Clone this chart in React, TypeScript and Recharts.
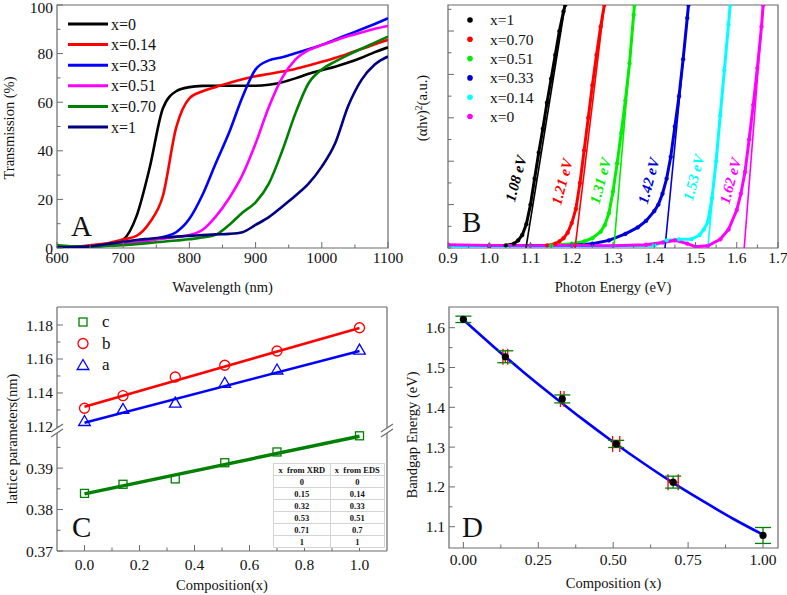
import React from 'react';
import { LineChart, ComposedChart, Line, Scatter, XAxis, YAxis, ReferenceArea, ReferenceLine, ErrorBar } from 'recharts';

const FONT = "'Liberation Serif', 'Times New Roman', serif";
const AXIS = '#6a6a6a';

// ---------- A: transmission spectra ----------
const wavelength = [600, 620, 640, 660, 680, 700, 720, 740, 760, 780, 800, 820, 840, 860, 880, 900, 920, 940, 960, 980, 1000, 1020, 1040, 1060, 1080, 1100];
const transX0 = [0.5, 0.4, 0.6, 1.0, 1.7, 3.5, 13, 33, 57.5, 64.5, 66.2, 66.7, 66.8, 66.8, 66.8, 66.8, 67.2, 68.2, 69.8, 71.7, 73.2, 74.6, 76.3, 78.3, 80.6, 82.6];
const transX014 = [0.4, 0.4, 0.8, 1.4, 2.2, 3.5, 5.0, 10.5, 21.5, 49.5, 61.6, 64.5, 66.3, 67.9, 69.4, 70.7, 71.6, 72.6, 73.7, 75.1, 76.6, 78.2, 80.0, 81.9, 83.8, 85.7];
const transX033 = [0.5, 0.3, 0.4, 0.7, 1.2, 1.8, 2.5, 3.2, 4.5, 6.5, 12, 22, 35, 47.5, 62, 73.5, 77.2, 78.5, 80.1, 81.8, 83.6, 85.7, 87.9, 90.0, 92.2, 94.5];
const transX051 = [0.4, 0.3, 0.5, 0.8, 1.2, 1.8, 2.5, 3.2, 3.8, 4.5, 5.3, 7.5, 13, 20.5, 30, 43, 58, 70, 77.5, 81.4, 83.5, 85.4, 87.2, 88.7, 90.2, 91.4];
const transX070 = [1.2, 0.7, 0.5, 0.6, 0.9, 1.2, 1.6, 2.1, 2.6, 3.1, 3.6, 4.3, 5.5, 9.5, 14.5, 18.8, 26.5, 39.8, 55.3, 67.8, 73.5, 76.7, 79.5, 82.0, 84.5, 87.0];
const transX1 = [0.3, 0.3, 0.5, 1.0, 1.8, 2.6, 3.3, 3.8, 4.3, 4.7, 5.0, 5.3, 5.6, 5.8, 6.5, 9.5, 12.7, 17, 21.5, 26.5, 33.5, 43, 58.5, 69.2, 75.5, 78.8];

const aSeries = [
  { key: 't0', name: 'x=0', color: '#000000', values: transX0 },
  { key: 't014', name: 'x=0.14', color: '#ff0000', values: transX014 },
  { key: 't033', name: 'x=0.33', color: '#0000ff', values: transX033 },
  { key: 't051', name: 'x=0.51', color: '#ff00ff', values: transX051 },
  { key: 't070', name: 'x=0.70', color: '#008000', values: transX070 },
  { key: 't1', name: 'x=1', color: '#000080', values: transX1 },
];
const aTable = wavelength.map((wl, i) => {
  const row: Record<string, number> = { wl };
  aSeries.forEach((s) => { row[s.key] = s.values[i]; });
  return row;
});

const aXTicks = [600, 650, 700, 750, 800, 850, 900, 950, 1000, 1050, 1100];
const aXMajor = [600, 700, 800, 900, 1000, 1100];
const aYTicks = [0, 10, 20, 30, 40, 50, 60, 70, 80, 90, 100];
const aYMajor = [0, 20, 40, 60, 80, 100];

// ---------- B: Tauc plots ----------
const bE1 = [0.9, 1.0, 1.04, 1.06, 1.07, 1.08, 1.09, 1.1, 1.11, 1.12, 1.13, 1.14, 1.15, 1.16, 1.17, 1.18, 1.184];
const bV1 = [0.1, 0.1, 0.12, 0.2, 0.35, 0.6, 1.1, 2.0, 3.2, 4.4, 5.5, 6.7, 7.8, 8.9, 10.0, 10.9, 11.2];
const bE070 = [0.9, 1.0, 1.1, 1.14, 1.16, 1.17, 1.18, 1.19, 1.2, 1.21, 1.22, 1.23, 1.24, 1.25, 1.26, 1.27, 1.279];
const bV070 = [0.1, 0.1, 0.1, 0.12, 0.2, 0.3, 0.45, 0.7, 1.15, 1.8, 3.0, 4.5, 6.0, 7.5, 8.9, 10.2, 11.2];
const bE051 = [0.9, 1.0, 1.1, 1.15, 1.2, 1.23, 1.25, 1.27, 1.28, 1.29, 1.3, 1.31, 1.32, 1.33, 1.34, 1.35, 1.352];
const bV051 = [0.1, 0.1, 0.1, 0.12, 0.2, 0.3, 0.45, 0.75, 1.05, 1.6, 2.6, 3.9, 5.3, 6.8, 8.5, 10.75, 11.2];
const bE033 = [0.9, 1.0, 1.1, 1.2, 1.25, 1.29, 1.33, 1.36, 1.38, 1.4, 1.41, 1.42, 1.43, 1.44, 1.45, 1.46, 1.47, 1.48, 1.483];
const bV033 = [0.1, 0.1, 0.1, 0.12, 0.2, 0.35, 0.65, 0.95, 1.25, 1.7, 2.0, 2.5, 3.2, 4.2, 5.6, 7.0, 8.7, 10.6, 11.2];
const bE014 = [0.9, 1.1, 1.3, 1.4, 1.43, 1.46, 1.49, 1.51, 1.52, 1.53, 1.54, 1.55, 1.56, 1.57, 1.58, 1.584];
const bV014 = [0.05, 0.05, 0.08, 0.12, 0.35, 0.4, 0.4, 0.6, 0.85, 1.2, 2.3, 4.0, 6.1, 8.2, 10.3, 11.2];
const bE0 = [0.9, 1.0, 1.1, 1.2, 1.3, 1.38, 1.42, 1.45, 1.48, 1.5, 1.53, 1.56, 1.58, 1.6, 1.61, 1.62, 1.63, 1.64, 1.65, 1.66, 1.664];
const bV0 = [0.15, 0.12, 0.1, 0.12, 0.1, 0.15, 0.25, 0.35, 0.2, 0.06, 0.1, 0.4, 0.85, 1.75, 2.5, 3.5, 5.0, 6.6, 8.3, 10.2, 11.2];

const bFitFrom = [1.089, 1.208, 1.302, 1.426, 1.53, 1.618];
const bFitTo = [1.184, 1.279, 1.352, 1.483, 1.584, 1.664];
const bGapLabels = ['1.08 eV', '1.21 eV', '1.31 eV', '1.42 eV', '1.53 eV', '1.62 eV'];
const bLabelE = [1.064, 1.176, 1.269, 1.386, 1.495, 1.584];
const bLabelV = [3.2, 3.05, 3.1, 3.1, 3.25, 3.1];

const bSeries = [
  { name: 'x=1', color: '#000000', e: bE1, v: bV1 },
  { name: 'x=0.70', color: '#ff0000', e: bE070, v: bV070 },
  { name: 'x=0.51', color: '#00ee00', e: bE051, v: bV051 },
  { name: 'x=0.33', color: '#0000dd', e: bE033, v: bV033 },
  { name: 'x=0.14', color: '#00ffff', e: bE014, v: bV014 },
  { name: 'x=0', color: '#ff00ff', e: bE0, v: bV0 },
];
const bNotes = bGapLabels.map((label, i) => ({ e: bLabelE[i], v: bLabelV[i], label, color: bSeries[i].color }));

const bXTicks = [0.9, 0.95, 1.0, 1.05, 1.1, 1.15, 1.2, 1.25, 1.3, 1.35, 1.4, 1.45, 1.5, 1.55, 1.6, 1.65, 1.7];
const bXMajor = [0.9, 1.0, 1.1, 1.2, 1.3, 1.4, 1.5, 1.6, 1.7];
const bYTicks = [0, 1, 2, 3, 4, 5, 6, 7, 8, 9, 10, 11];
const bYMajor = [2, 4, 6, 8, 10];

// ---------- C: lattice parameters ----------
const composition = [0, 0.14, 0.33, 0.51, 0.7, 1.0];
const latticeC = [0.3839, 0.3861, 0.3874, 0.3913, 0.3939, 0.3978];
const latticeB = [1.131, 1.1384, 1.1494, 1.1563, 1.1647, 1.1784];
const latticeA = [1.1235, 1.1306, 1.1343, 1.146, 1.1538, 1.1655];
const fitX = [0, 1];
const fitC = [0.3838, 0.3977];
const fitB = [1.1319, 1.1783];
const fitA = [1.1225, 1.1647];
const xFromXRD = ['0', '0.15', '0.32', '0.53', '0.71', '1'];
const xFromEDS = ['0', '0.14', '0.33', '0.51', '0.7', '1'];

const cXTicks = [0, 0.1, 0.2, 0.3, 0.4, 0.5, 0.6, 0.7, 0.8, 0.9, 1.0];
const cXMajor = [0, 0.2, 0.4, 0.6, 0.8, 1.0];
const cUpTicks = [1.12, 1.13, 1.14, 1.15, 1.16, 1.17, 1.18];
const cUpMajor = [1.12, 1.14, 1.16, 1.18];
const cLoTicks = [0.37, 0.375, 0.38, 0.385, 0.39, 0.395];
const cLoMajor = [0.37, 0.38, 0.39];

// ---------- D: bandgap vs composition ----------
const bandgap = [1.621, 1.527, 1.421, 1.308, 1.212, 1.078];
const bandgapErr = [0.008, 0.015, 0.01, 0.009, 0.015, 0.02];
const compErr = [0, 0.008, 0.006, 0.012, 0.017, 0];
const curveX = [0, 0.1, 0.2, 0.3, 0.4, 0.5, 0.6, 0.7, 0.8, 0.9, 1.0];
const curveE = [1.62, 1.553, 1.489, 1.428, 1.369, 1.313, 1.26, 1.21, 1.164, 1.12, 1.08];

const dXTicks = [0, 0.125, 0.25, 0.375, 0.5, 0.625, 0.75, 0.875, 1.0];
const dXMajor = [0, 0.25, 0.5, 0.75, 1.0];
const dYTicks = [1.1, 1.15, 1.2, 1.25, 1.3, 1.35, 1.4, 1.45, 1.5, 1.55, 1.6];
const dYMajor = [1.1, 1.2, 1.3, 1.4, 1.5, 1.6];

const pair = (xs: number[], ys: number[]) => xs.map((x, i) => ({ x, y: ys[i] }));

const tickText = { fontFamily: FONT, fontSize: 15.5, fill: '#111' };

// ticks point inward, like the Origin defaults
function inwardTick(side: 'bottom' | 'left', majors: number[], fmt: ((v: number) => string) | null, gap: number, minY = 0) {
  return (p: any) => {
    const v = Number(p.payload.value);
    const major = majors.some((m) => Math.abs(m - v) < 1e-6);
    const len = major ? 6 : 3.5;
    if (side === 'bottom') {
      const base = p.y - gap;
      return (
        <g>
          <line x1={p.x} x2={p.x} y1={base} y2={base - len} stroke={AXIS} />
          {major && fmt ? <text x={p.x} y={p.y} dy="0.71em" textAnchor="middle" style={tickText}>{fmt(v)}</text> : null}
        </g>
      );
    }
    const base = p.x + gap;
    return (
      <g>
        <line x1={base} x2={base + len} y1={p.y} y2={p.y} stroke={AXIS} />
        {major && fmt ? <text x={p.x} y={Math.max(p.y, minY)} dy="0.355em" textAnchor="end" style={tickText}>{fmt(v)}</text> : null}
      </g>
    );
  };
}

const hollow = (kind: string, color: string) => (p: any) => {
  const { cx, cy } = p;
  if (kind === 'square') return <rect x={cx - 4} y={cy - 4} width={8} height={8} fill="none" stroke={color} strokeWidth={1.3} />;
  if (kind === 'circle') return <circle cx={cx} cy={cy} r={5} fill="none" stroke={color} strokeWidth={1.3} />;
  return <polygon points={`${cx},${cy - 5.5} ${cx - 5.8},${cy + 4.5} ${cx + 5.8},${cy + 4.5}`} fill="none" stroke={color} strokeWidth={1.3} />;
};

const gapNote = (p: any) => (
  <text
    transform={`translate(${p.cx},${p.cy}) rotate(-75)`}
    textAnchor="middle"
    dy="0.35em"
    style={{ fontFamily: FONT, fontSize: 15, fontWeight: 'bold', fontStyle: 'italic', fill: p.payload.color }}
  >
    {p.payload.label}
  </text>
);

const title = { fontFamily: FONT, fontSize: 14.5, fill: '#111' };

const BreakMark = ({ x, y }: { x: number; y: number }) => (
  <g>
    <polygon points={`${x - 6},${y + 1} ${x + 6},${y - 7} ${x + 6},${y - 2} ${x - 6},${y + 6}`} fill="#fff" />
    <line x1={x - 6} y1={y + 1} x2={x + 6} y2={y - 7} stroke={AXIS} strokeWidth={1.2} />
    <line x1={x - 6} y1={y + 6} x2={x + 6} y2={y - 2} stroke={AXIS} strokeWidth={1.2} />
  </g>
);

const App: React.FC = () => {
  const cellStyle: React.CSSProperties = { border: '1px solid #d4d4d4', padding: 0, textAlign: 'center', height: 11 };
  return (
    <div style={{ position: 'absolute', left: 0, top: 0, width: 787, height: 595, background: '#fff', overflow: 'hidden' }}>
      {/* A */}
      <div style={{ position: 'absolute', left: 0, top: -10 }}>
        <LineChart width={420} height={310} data={aTable} margin={{ top: 15, right: 32, bottom: 0, left: 0 }}>
          <XAxis dataKey="wl" type="number" domain={[600, 1100]} ticks={aXTicks} interval={0} height={52}
            tickSize={0} tickMargin={4} tickLine={false} axisLine={false} allowDataOverflow
            tick={inwardTick('bottom', aXMajor, (v) => String(v), 4)} />
          <YAxis type="number" domain={[0, 100]} ticks={aYTicks} interval={0} width={57}
            tickSize={0} tickMargin={4} tickLine={false} axisLine={false} allowDataOverflow
            tick={inwardTick('left', aYMajor, (v) => String(v), 4, 17)} />
          <ReferenceArea x1={600} x2={1100} y1={0} y2={100} fill="none" stroke={AXIS} strokeWidth={1.2} />
          {aSeries.map((s) => (
            <Line key={s.key} dataKey={s.key} name={s.name} type="monotone" stroke={s.color} strokeWidth={2.6}
              dot={false} isAnimationActive={false} />
          ))}
        </LineChart>
      </div>

      {/* B */}
      <div style={{ position: 'absolute', left: 390, top: -10 }}>
        <ComposedChart width={397} height={310} margin={{ top: 15, right: 9, bottom: 0, left: 0 }}>
          <XAxis dataKey="x" type="number" domain={[0.9, 1.7]} ticks={bXTicks} interval={0} height={52}
            tickSize={0} tickMargin={4} tickLine={false} axisLine={false} allowDataOverflow
            tick={inwardTick('bottom', bXMajor, (v) => v.toFixed(1), 4)} />
          <YAxis dataKey="y" type="number" domain={[0, 11.2]} ticks={bYTicks} interval={0} width={58}
            tickSize={0} tickMargin={4} tickLine={false} axisLine={false} allowDataOverflow
            tick={inwardTick('left', bYMajor, null, 4)} />
          <ReferenceArea x1={0.9} x2={1.7} y1={0} y2={11.2} fill="none" stroke={AXIS} strokeWidth={1.2} />
          {bSeries.map((s) => (
            <Line key={s.name} data={pair(s.e, s.v)} dataKey="y" name={s.name} type="linear" stroke={s.color}
              strokeWidth={3} dot={{ r: 1.9, fill: s.color, stroke: s.color, strokeWidth: 0.5 }} isAnimationActive={false} />
          ))}
          {bSeries.map((s, i) => (
            <Line key={'fit' + s.name} data={pair([bFitFrom[i], bFitTo[i]], [0, 11.2])} dataKey="y" type="linear"
              stroke={s.color} strokeWidth={1.6} dot={false} legendType="none" isAnimationActive={false} />
          ))}
          <Scatter data={bNotes.map((n) => ({ x: n.e, y: n.v, label: n.label, color: n.color }))} shape={gapNote}
            isAnimationActive={false} />
        </ComposedChart>
      </div>

      {/* C upper (a, b) */}
      <div style={{ position: 'absolute', left: 0, top: 300 }}>
        <ComposedChart width={400} height={145} margin={{ top: 7, right: 13, bottom: 15, left: 0 }}>
          <XAxis dataKey="x" type="number" domain={[-0.1, 1.1]} hide allowDataOverflow />
          <YAxis dataKey="y" type="number" domain={[1.1182, 1.1906]} ticks={cUpTicks} interval={0} width={57}
            tickSize={0} tickMargin={4} tickLine={false} axisLine={{ stroke: AXIS, strokeWidth: 1.2 }} allowDataOverflow
            tick={inwardTick('left', cUpMajor, (v) => v.toFixed(2), 4)} />
          <ReferenceLine y={1.1906} stroke={AXIS} strokeWidth={1.2} />
          <ReferenceLine x={1.1} stroke={AXIS} strokeWidth={1.2} />
          <Line data={pair(fitX, fitB)} dataKey="y" type="linear" stroke="#ff0000" strokeWidth={2.6} dot={false} isAnimationActive={false} />
          <Line data={pair(fitX, fitA)} dataKey="y" type="linear" stroke="#0000ff" strokeWidth={2.6} dot={false} isAnimationActive={false} />
          <Scatter data={pair(composition, latticeB)} shape={hollow('circle', '#ff0000')} isAnimationActive={false} />
          <Scatter data={pair(composition, latticeA)} shape={hollow('triangle', '#0000ff')} isAnimationActive={false} />
        </ComposedChart>
      </div>

      {/* C lower (c) */}
      <div style={{ position: 'absolute', left: 0, top: 430 }}>
        <ComposedChart width={400} height={165} margin={{ top: 0, right: 13, bottom: 0, left: 0 }}>
          <XAxis dataKey="x" type="number" domain={[-0.1, 1.1]} ticks={cXTicks} interval={0} height={44}
            tickSize={0} tickMargin={8} tickLine={false} axisLine={{ stroke: AXIS, strokeWidth: 1.2 }} allowDataOverflow
            tick={inwardTick('bottom', cXMajor, (v) => v.toFixed(1), 8)} />
          <YAxis dataKey="y" type="number" domain={[0.37, 0.3992]} ticks={cLoTicks} interval={0} width={57}
            tickSize={0} tickMargin={4} tickLine={false} axisLine={{ stroke: AXIS, strokeWidth: 1.2 }} allowDataOverflow
            tick={inwardTick('left', cLoMajor, (v) => v.toFixed(2), 4)} />
          <ReferenceLine x={1.1} stroke={AXIS} strokeWidth={1.2} />
          <Line data={pair(fitX, fitC)} dataKey="y" type="linear" stroke="#008000" strokeWidth={3.4} dot={false} isAnimationActive={false} />
          <Scatter data={pair(composition, latticeC)} shape={hollow('square', '#008000')} isAnimationActive={false} />
        </ComposedChart>
      </div>

      {/* D */}
      <div style={{ position: 'absolute', left: 390, top: 300 }}>
        <ComposedChart width={397} height={295} margin={{ top: 7, right: 9, bottom: 0, left: 0 }}>
          <XAxis dataKey="x" type="number" domain={[-0.048, 1.05]} ticks={dXTicks} interval={0} height={47}
            tickSize={0} tickMargin={5.5} tickLine={false} axisLine={false} allowDataOverflow
            tick={inwardTick('bottom', dXMajor, (v) => v.toFixed(2), 5.5)} />
          <YAxis dataKey="y" type="number" domain={[1.0465, 1.652]} ticks={dYTicks} interval={0} width={59}
            tickSize={0} tickMargin={4} tickLine={false} axisLine={false} allowDataOverflow
            tick={inwardTick('left', dYMajor, (v) => v.toFixed(1), 4)} />
          <ReferenceArea x1={-0.048} x2={1.05} y1={1.0465} y2={1.652} fill="none" stroke={AXIS} strokeWidth={1.2} />
          <Line data={pair(curveX, curveE)} dataKey="y" type="monotone" stroke="#0000ff" strokeWidth={2.6} dot={false} isAnimationActive={false} />
          <Scatter
            data={composition.map((x, i) => ({ x, y: bandgap[i], ey: bandgapErr[i], ex: compErr[i] }))}
            fill="#000" shape={(p: any) => <circle cx={p.cx} cy={p.cy} r={3.6} fill="#000" />}
            isAnimationActive={false}
          >
            <ErrorBar dataKey="ex" direction="x" width={8} stroke="#ff0000" strokeWidth={1.3} />
            <ErrorBar dataKey="ey" direction="y" width={8} stroke="#008000" strokeWidth={1.3} />
          </Scatter>
        </ComposedChart>
      </div>

      {/* table inside C */}
      <table style={{
        position: 'absolute', left: 273, top: 463, width: 112, borderCollapse: 'collapse', background: '#fff',
        fontFamily: FONT, fontSize: 8.5, fontWeight: 'bold', lineHeight: '10px', color: '#111',
      }}>
        <tbody>
          <tr>
            <td style={cellStyle}>x&nbsp; from XRD</td>
            <td style={cellStyle}>x&nbsp; from EDS</td>
          </tr>
          {xFromXRD.map((v, i) => (
            <tr key={i}>
              <td style={cellStyle}>{v}</td>
              <td style={cellStyle}>{xFromEDS[i]}</td>
            </tr>
          ))}
        </tbody>
      </table>

      {/* titles, legends, panel letters */}
      <svg width={787} height={595} style={{ position: 'absolute', left: 0, top: 0, pointerEvents: 'none' }}>
        <text x={222.5} y={287} dy="0.35em" textAnchor="middle" style={title}>Wavelength (nm)</text>
        <text x={613} y={287} dy="0.35em" textAnchor="middle" style={title}>Photon Energy (eV)</text>
        <text x={222} y={585} dy="0.35em" textAnchor="middle" style={title}>Composition(x)</text>
        <text x={613.5} y={583} dy="0.35em" textAnchor="middle" style={title}>Composition (x)</text>
        <text transform="translate(9,128) rotate(-90)" dy="0.35em" textAnchor="middle" style={title}>Transmission (%)</text>
        <text transform="translate(421.5,108) rotate(-90)" dy="0.35em" textAnchor="middle" style={title}>
          (αhν)<tspan dy={-5} fontSize={9.5}>2</tspan><tspan dy={5}>(a.u.)</tspan>
        </text>
        <text transform="translate(12,439) rotate(-90)" dy="0.35em" textAnchor="middle" style={title}>lattice parameters(nm)</text>
        <text transform="translate(412,435) rotate(-90)" dy="0.35em" textAnchor="middle" style={title}>Bandgap Energy (eV)</text>

        {aSeries.map((s, i) => {
          const y = 24 + i * 20.6;
          return (
            <g key={s.key}>
              <line x1={68} x2={108} y1={y} y2={y} stroke={s.color} strokeWidth={3} />
              <text x={111} y={y} dy="0.35em" style={{ fontFamily: FONT, fontSize: 16, fill: '#111' }}>{s.name}</text>
            </g>
          );
        })}

        {bSeries.map((s, i) => {
          const y = 20 + i * 19.3;
          return (
            <g key={s.name}>
              <circle cx={470} cy={y} r={2.8} fill={s.color} />
              <text x={490} y={y} dy="0.35em" style={{ fontFamily: FONT, fontSize: 15.5, fill: '#111' }}>{s.name}</text>
            </g>
          );
        })}

        {[{ k: 'square', c: '#008000', t: 'c' }, { k: 'circle', c: '#ff0000', t: 'b' }, { k: 'triangle', c: '#0000ff', t: 'a' }].map((m, i) => {
          const y = 322 + i * 21.5;
          return (
            <g key={m.t}>
              {hollow(m.k, m.c)({ cx: 83, cy: y })}
              <text x={102} y={y} dy="0.3em" style={{ fontFamily: FONT, fontSize: 17, fill: '#111' }}>{m.t}</text>
            </g>
          );
        })}

        <text x={71} y={236} style={{ fontFamily: FONT, fontSize: 29, fill: '#111' }}>A</text>
        <text x={462} y={232} style={{ fontFamily: FONT, fontSize: 29, fill: '#111' }}>B</text>
        <text x={72} y={537} style={{ fontFamily: FONT, fontSize: 29, fill: '#111' }}>C</text>
        <text x={462} y={537} style={{ fontFamily: FONT, fontSize: 29, fill: '#111' }}>D</text>

        <BreakMark x={57} y={431} />
        <BreakMark x={387} y={431} />
      </svg>
    </div>
  );
};

export default App;
